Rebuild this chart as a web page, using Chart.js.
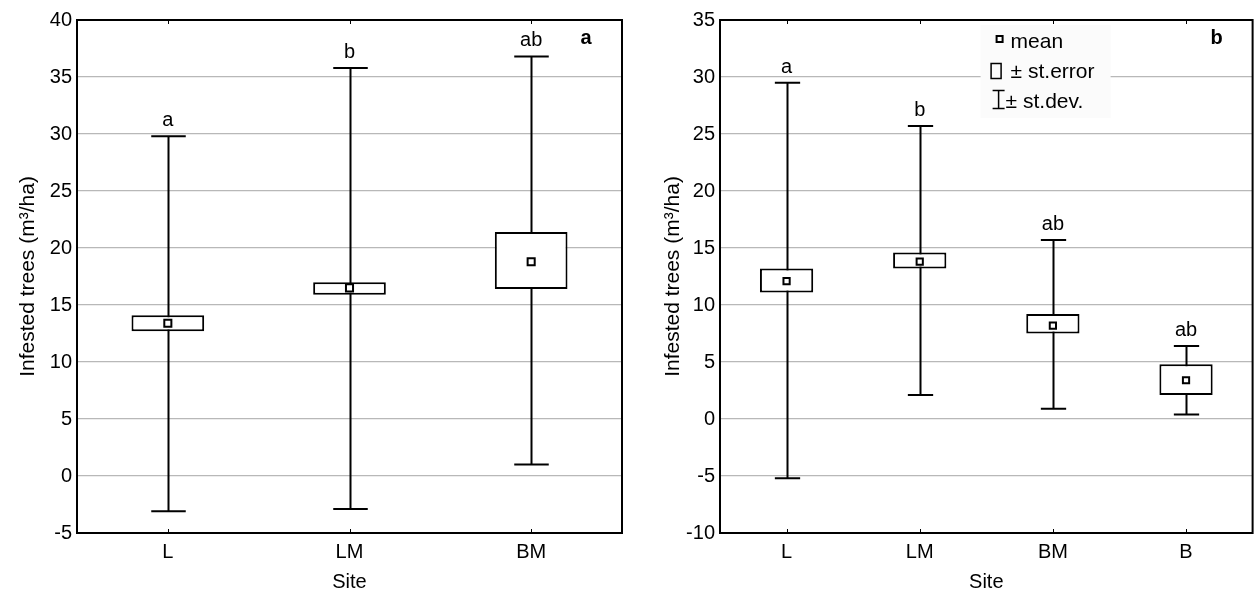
<!DOCTYPE html>
<html>
<head>
<meta charset="utf-8">
<script src="https://cdn.jsdelivr.net/npm/chart.js@4/dist/chart.umd.min.js"></script>
<style>
  body { margin: 0; background: #fff; }
  .panel { position: absolute; top: 0; }
</style>
</head>
<body>
<div class="panel" style="left:0"><canvas id="chartA" width="640" height="594"></canvas></div>
<div class="panel" style="left:640px"><canvas id="chartB" width="619" height="594"></canvas></div>
<script>
// panel a: three sites
const sitesA = ['L', 'LM', 'BM'];
const meanA = [13.4, 16.5, 18.8];
const seLowA = [12.7, 15.9, 16.4];
const seHighA = [14.1, 17.0, 21.4];
const sdLowA = [-3.1, -2.9, 1.0];
const sdHighA = [29.8, 35.8, 36.8];
const lettersA = ['a', 'b', 'ab'];
const yMinA = -5, yMaxA = 40;

// panel b: four sites
const sitesB = ['L', 'LM', 'BM', 'B'];
const meanB = [12.1, 13.8, 8.2, 3.4];
const seLowB = [11.1, 13.2, 7.5, 2.1];
const seHighB = [13.2, 14.6, 9.2, 4.8];
const sdLowB = [-5.2, 2.1, 0.9, 0.4];
const sdHighB = [29.5, 25.7, 15.7, 6.4];
const lettersB = ['a', 'b', 'ab', 'ab'];
const yMinB = -10, yMaxB = 35;

const yStep = 5;
const FONT = "'Liberation Sans', Arial, sans-serif";
const yTitle = 'Infested trees (m³/ha)';

// whiskers (± st.dev.), letters, frame and panel label
function boxExtras(sdLow, sdHigh, letters, panelLabel, withLegend) {
  return {
    id: 'boxExtras',
    beforeDatasetsDraw(chart) {
      const { ctx, scales: { x, y } } = chart;
      const step = x.getPixelForValue(1) - x.getPixelForValue(0);
      const cap = step * 0.095;
      ctx.save();
      ctx.strokeStyle = '#000';
      ctx.lineWidth = 2;
      sdLow.forEach((lo, i) => {
        const px = Math.round(x.getPixelForValue(i)) + 0.5;
        const yTop = y.getPixelForValue(sdHigh[i]);
        const yBot = y.getPixelForValue(lo);
        ctx.beginPath();
        ctx.moveTo(px, yTop); ctx.lineTo(px, yBot);
        ctx.moveTo(px - cap, yTop); ctx.lineTo(px + cap, yTop);
        ctx.moveTo(px - cap, yBot); ctx.lineTo(px + cap, yBot);
        ctx.stroke();
      });
      ctx.restore();
    },
    afterDatasetsDraw(chart) {
      const { ctx, chartArea: ca, scales: { x, y } } = chart;
      ctx.save();
      ctx.fillStyle = '#000';
      ctx.textAlign = 'center';
      ctx.textBaseline = 'alphabetic';
      ctx.font = '20px ' + FONT;
      letters.forEach((t, i) => {
        ctx.fillText(t, x.getPixelForValue(i), y.getPixelForValue(sdHigh[i]) - 10);
      });
      ctx.font = 'bold 20px ' + FONT;
      ctx.fillText(panelLabel, ca.right - 36, ca.top + 24);

      if (withLegend) {
        const lx = ca.right - 272, ly = ca.top + 5;
        ctx.fillStyle = '#fbfbfb';
        ctx.fillRect(lx, ly, 130, 93);
        ctx.strokeStyle = '#000';
        ctx.fillStyle = '#fff';
        // mean marker
        ctx.lineWidth = 2;
        ctx.fillRect(lx + 16, ly + 11, 6, 6);
        ctx.strokeRect(lx + 16, ly + 11, 6, 6);
        // st.error box
        ctx.lineWidth = 1.5;
        ctx.strokeRect(lx + 10.5, ly + 38.5, 10, 15);
        // st.dev. I-beam
        ctx.beginPath();
        ctx.moveTo(lx + 12, ly + 65.5); ctx.lineTo(lx + 24, ly + 65.5);
        ctx.moveTo(lx + 18, ly + 65.5); ctx.lineTo(lx + 18, ly + 83.5);
        ctx.moveTo(lx + 12, ly + 83.5); ctx.lineTo(lx + 24, ly + 83.5);
        ctx.stroke();
        ctx.fillStyle = '#000';
        ctx.textAlign = 'left';
        ctx.font = '21px ' + FONT;
        ctx.fillText('mean', lx + 30, ly + 23);
        ctx.fillText('± st.error', lx + 30, ly + 53);
        ctx.fillText('± st.dev.', lx + 25, ly + 83);
      }
      ctx.restore();
    },
    afterDraw(chart) {
      const { ctx, chartArea: ca, scales: { x } } = chart;
      ctx.save();
      ctx.strokeStyle = '#000';
      ctx.lineWidth = 2;
      ctx.strokeRect(ca.left, ca.top, ca.right - ca.left, ca.bottom - ca.top);
      ctx.lineWidth = 1;
      ctx.beginPath();
      sdLow.forEach((_, i) => {
        const px = Math.round(x.getPixelForValue(i)) + 0.5;
        ctx.moveTo(px, ca.top); ctx.lineTo(px, ca.top + 4);
        ctx.moveTo(px, ca.bottom); ctx.lineTo(px, ca.bottom - 4);
      });
      ctx.stroke();
      ctx.restore();
    }
  };
}

function makePanel(canvasId, o) {
  new Chart(document.getElementById(canvasId), {
    type: 'bar',
    data: {
      labels: o.sites,
      datasets: [
        {
          type: 'line',
          label: 'mean',
          data: o.mean,
          showLine: false,
          pointStyle: 'rect',
          pointRadius: o.pointRadius,
          pointBackgroundColor: '#fff',
          pointBorderColor: '#000',
          pointBorderWidth: 2,
          order: 0
        },
        {
          type: 'bar',
          label: '± st.error',
          data: o.seLow.map((lo, i) => [lo, o.seHigh[i]]),
          backgroundColor: '#fff',
          borderColor: '#000',
          borderWidth: 2,
          borderSkipped: false,
          barPercentage: 0.4,
          categoryPercentage: 1,
          order: 1
        }
      ]
    },
    options: {
      responsive: false,
      animation: false,
      events: [],
      layout: { padding: { top: 20, right: o.padRight, bottom: 0, left: 0 } },
      plugins: { legend: { display: false }, tooltip: { enabled: false } },
      scales: {
        x: {
          grid: { display: false, drawTicks: false },
          border: { display: false },
          ticks: { color: '#000', font: { family: FONT, size: 20 }, padding: 7 },
          title: { display: true, text: 'Site', color: '#000', font: { family: FONT, size: 20 }, padding: { top: 0, bottom: 0 } },
          afterFit(scale) { scale.height = 61; }
        },
        y: {
          min: o.yMin,
          max: o.yMax,
          grid: { color: '#b8b8b8', lineWidth: 1.2, drawTicks: false },
          border: { display: false },
          ticks: { stepSize: yStep, color: '#000', font: { family: FONT, size: 20 }, padding: 5 },
          title: { display: true, text: yTitle, color: '#000', font: { family: FONT, size: 21 }, padding: { top: o.titlePad, bottom: 0 } },
          afterFit(scale) { scale.width = o.yWidth; }
        }
      }
    },
    plugins: [boxExtras(o.sdLow, o.sdHigh, o.letters, o.label, o.legend)]
  });
}

makePanel('chartA', {
  sites: sitesA, mean: meanA, seLow: seLowA, seHigh: seHighA,
  sdLow: sdLowA, sdHigh: sdHighA, letters: lettersA, label: 'a', legend: false,
  yMin: yMinA, yMax: yMaxA, yWidth: 77, padRight: 18, titlePad: 16, pointRadius: 5
});
makePanel('chartB', {
  sites: sitesB, mean: meanB, seLow: seLowB, seHigh: seHighB,
  sdLow: sdLowB, sdHigh: sdHighB, letters: lettersB, label: 'b', legend: true,
  yMin: yMinB, yMax: yMaxB, yWidth: 80, padRight: 4, titlePad: 21, pointRadius: 4.4
});
</script>
</body>
</html>
